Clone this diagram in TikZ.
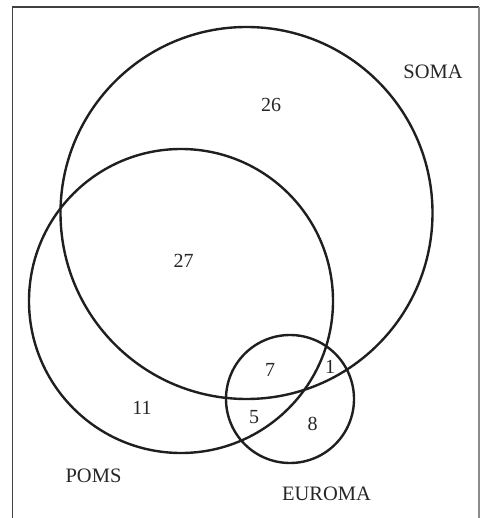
\documentclass[tikz,border=0pt]{standalone}
\usepackage{fontspec}
\setmainfont{Liberation Serif}
\begin{document}
\begin{tikzpicture}[x=1pt,y=-1pt,
  setcircle/.style={draw=black!88,line width=2.4pt},
  lbl/.style={font=\fontsize{20.5}{22}\selectfont,inner sep=0pt,text=black!85},
  num/.style={font=\fontsize{20}{22}\selectfont,inner sep=0pt,text=black!85}]
\useasboundingbox (0,0) rectangle (480,518);
\draw[black!75,line width=1.4pt] (12.5,520) -- (12.5,7) -- (479,7);
\draw[black!45,line width=1.3pt] (479,7) -- (479,520);
\node[setcircle,circle,minimum size=372pt,inner sep=0pt] (soma) at (246.5,213) {};
\node[setcircle,circle,minimum size=304pt,inner sep=0pt] (poms) at (181,301) {};
\node[setcircle,circle,minimum size=128pt,inner sep=0pt] (euroma) at (290,399) {};
\node[lbl] (lsoma) at (433,72) {SOMA};
\node[lbl] (lpoms) at (93.5,476) {POMS};
\node[lbl] (leuroma) at (326.5,494) {EUROMA};
\node[num] (n26) at (271,105) {26};
\node[num] (n27) at (183.5,261) {27};
\node[num] (n11) at (142,408) {11};
\node[num] (n7) at (270,370) {7};
\node[num] (n1) at (330,367) {1};
\node[num] (n5) at (254,417) {5};
\node[num] (n8) at (312.5,424) {8};
\end{tikzpicture}
\end{document}
